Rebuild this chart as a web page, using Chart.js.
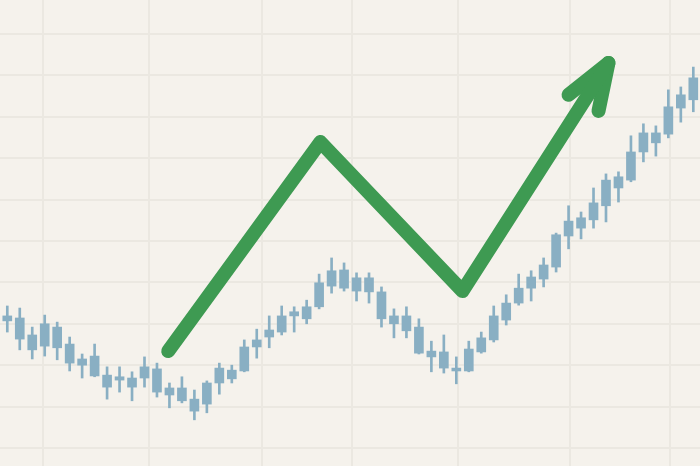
<!DOCTYPE html>
<html>
<head>
<meta charset="utf-8">
<script src="https://cdn.jsdelivr.net/npm/chart.js@4"></script>
<style>
  html, body { margin: 0; padding: 0; background: #f5f2ec; }
  #chart-outer { position: relative; width: 700px; height: 466px; }
</style>
</head>
<body>
<div id="chart-outer"><canvas id="chart-area"></canvas></div>
<script>
// candles (price units, one per day)
const open  = [131.9,131.4,127.3,130.0,129.2,125.1,121.5,122.2,117.6,117.2,116.9,119.6,119.1,114.5,114.5,111.8,
               110.6,115.7,116.7,118.6,124.4,126.8,128.0,131.9,131.2,134.1,
               142.8,143.0,141.1,141.1,137.7,131.9,131.9,129.2,123.4,123.2,119.3,
               118.6,123.2,126.1,130.9,135.0,138.6,140.8,143.7,151.2,153.1,155.1,158.5,162.8,164.7,171.5,173.7,175.8,182.1,184.1];
const close = [130.7,126.3,123.7,124.6,124.2,120.5,120.0,117.4,114.7,116.4,114.7,116.9,113.5,112.8,111.4,108.9,
               115.7,119.3,118.8,124.4,126.1,128.5,131.9,132.9,134.1,139.9,
               139.1,138.6,137.9,137.7,131.2,130.0,128.3,122.9,122.0,119.3,118.6,
               123.9,126.6,131.9,135.0,138.6,141.3,144.2,151.5,154.8,155.6,159.2,164.7,165.5,171.5,176.1,176.1,182.4,185.3,189.4];
const high  = [134.3,133.8,129.2,132.1,130.4,126.8,122.7,125.1,119.6,119.6,118.4,122.0,120.5,115.7,117.2,114.0,
               116.2,120.5,120.0,126.1,128.7,131.9,134.3,134.1,135.7,142.0,
               145.9,144.7,142.3,142.3,138.9,133.6,134.1,131.2,125.8,127.3,122.0,
               125.8,128.0,134.3,137.0,142.0,142.8,145.9,151.9,158.5,157.0,162.8,166.2,166.7,175.4,178.3,177.8,186.5,187.2,192.0];
const low   = [128.0,123.7,121.5,122.2,121.3,118.6,116.9,117.2,111.8,113.5,111.4,114.7,112.3,109.7,110.9,106.8,
               108.5,113.0,115.7,118.4,121.7,124.2,127.3,128.0,130.0,133.6,
               137.4,137.9,135.5,135.0,129.2,126.6,126.6,122.7,118.4,118.1,115.5,
               118.4,122.9,125.6,129.7,134.5,135.5,138.9,142.5,148.1,150.5,153.1,154.6,159.4,164.3,169.1,170.5,174.9,178.7,181.2];
const days = open.map((_, i) => i);

// green trend arrow (day, price)
const arrowX = [12.9, 25.1, 36.5, 48.2];
const arrowY = [123.4, 173.9, 137.9, 193.0];
const headX = [45.0, 48.2, 47.4];
const headY = [185.3, 193.0, 181.4];

// vertical grid positions (day)
const gridDays = [2.9, 11.4, 20.4, 27.6, 36.1, 45.1, 53.1];

const candleColor = '#89afc3';
const green = '#3e9a52';
const gridColor = '#ebe8e1';

const bodies = days.map(i => ({x: i, y: [Math.min(open[i], close[i]), Math.max(open[i], close[i])]}));
const wicks = days.map(i => ({x: i, y: [low[i], high[i]]}));

const bgPlugin = {
  id: 'bg',
  beforeDraw(c) {
    const ctx = c.ctx;
    ctx.save();
    ctx.fillStyle = '#f5f2ec';
    ctx.fillRect(0, 0, c.width, c.height);
    ctx.restore();
  }
};

new Chart(document.getElementById('chart-area'), {
  data: {
    datasets: [
      {
        type: 'line',
        data: arrowX.map((x, i) => ({x: x, y: arrowY[i]})),
        borderColor: green,
        borderWidth: 14,
        borderCapStyle: 'round',
        borderJoinStyle: 'round',
        pointRadius: 0,
        order: 0
      },
      {
        type: 'line',
        data: headX.map((x, i) => ({x: x, y: headY[i]})),
        borderColor: green,
        borderWidth: 14,
        borderCapStyle: 'round',
        borderJoinStyle: 'round',
        pointRadius: 0,
        order: 0
      },
      {
        type: 'bar',
        data: bodies,
        backgroundColor: candleColor,
        barThickness: 9,
        grouped: false,
        borderWidth: 0,
        order: 1
      },
      {
        type: 'bar',
        data: wicks,
        backgroundColor: candleColor,
        barThickness: 2,
        grouped: false,
        borderWidth: 0,
        order: 2
      }
    ]
  },
  plugins: [bgPlugin],
  options: {
    responsive: true,
    maintainAspectRatio: false,
    animation: false,
    layout: { padding: 0 },
    plugins: { legend: { display: false }, tooltip: { enabled: false } },
    scales: {
      x: {
        type: 'linear',
        min: -0.585,
        max: 55.537,
        offset: false,
        afterBuildTicks(scale) {
          scale.ticks = gridDays.map(v => ({value: v}));
        },
        ticks: { display: false },
        border: { display: false },
        grid: { color: gridColor, lineWidth: 2, drawTicks: false, offset: false }
      },
      y: {
        min: 95.65,
        max: 208.2,
        ticks: { display: false, stepSize: 10, includeBounds: false },
        border: { display: false },
        grid: { color: gridColor, lineWidth: 2, drawTicks: false }
      }
    }
  }
});
</script>
</body>
</html>
